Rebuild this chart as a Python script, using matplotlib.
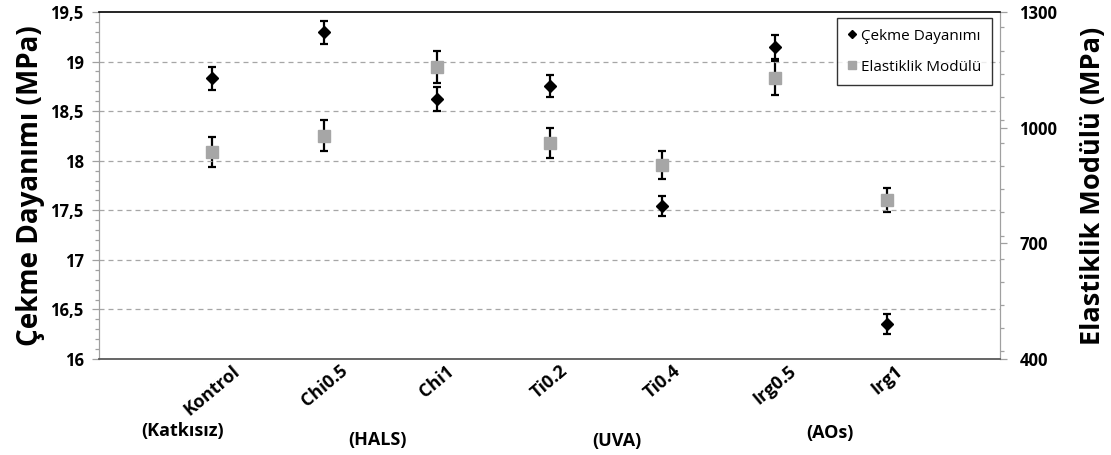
import matplotlib
matplotlib.use("Agg")
import matplotlib.pyplot as plt
from matplotlib.lines import Line2D
from matplotlib.ticker import MultipleLocator, FixedLocator

plt.rcParams['font.family'] = ['Open Sans', 'DejaVu Sans']

# Samples and their additive groups
categories = ["Kontrol", "Chi0.5", "Chi1", "Ti0.2", "Ti0.4", "Irg0.5", "Irg1"]
groups = ["(Katkısız)", "(HALS)", "(UVA)", "(AOs)"]
group_x = [0.74, 2.47, 4.6, 6.49]
group_y = [-0.207, -0.232, -0.235, -0.213]

# Tensile strength (MPa) with standard deviations
cekme = [18.83, 19.295, 18.62, 18.757, 17.546, 19.15, 16.355]
cekme_err = [0.115, 0.115, 0.12, 0.11, 0.10, 0.12, 0.10]

# Elastic modulus (MPa) with standard deviations
elastik = [936, 979, 1158, 960, 903, 1128, 813]
elastik_err = [39, 40, 42, 38, 37, 44, 31]

left_ticks = [16, 16.5, 17, 17.5, 18, 18.5, 19, 19.5]
left_labels = ["16", "16,5", "17", "17,5", "18", "18,5", "19", "19,5"]
right_ticks = [400, 700, 1000, 1300]

fig = plt.figure(figsize=(11.11, 4.55), dpi=100)
ax = fig.add_axes([99 / 1111, 1 - 359 / 455, 901 / 1111, 347 / 455])
ax2 = ax.twinx()

x = list(range(1, len(categories) + 1))

ax.set_xlim(0, 8)
ax.set_ylim(16, 19.5)
ax2.set_ylim(400, 1300)

# grid
for v in left_ticks[1:-1]:
    ax.axhline(v, color="#a6a6a6", lw=0.9, ls=(0, (4, 3.2)), zorder=0)

ax2.errorbar(x, elastik, yerr=elastik_err, fmt="s", color="#a6a6a6",
             markersize=8.2, ecolor="black", elinewidth=1.6, capsize=3.2,
             capthick=1.6, zorder=3)
ax.set_zorder(ax2.get_zorder() + 1)
ax.patch.set_visible(False)
ax.errorbar(x, cekme, yerr=cekme_err, fmt="D", color="black",
            markersize=5.8, ecolor="black", elinewidth=1.6, capsize=3.2,
            capthick=1.6, zorder=3)

# spines
ax.spines["top"].set_color("black")
ax.spines["top"].set_linewidth(1.2)
ax.spines["bottom"].set_color("#595959")
ax.spines["bottom"].set_linewidth(1.3)
for s in ("left", "right"):
    ax.spines[s].set_color("#a0a0a0")
    ax2.spines[s].set_color("#a0a0a0")
ax2.spines["top"].set_visible(False)
ax2.spines["bottom"].set_visible(False)

# ticks
ax.yaxis.set_major_locator(FixedLocator(left_ticks))
ax.set_yticklabels(left_labels)
ax.yaxis.set_minor_locator(MultipleLocator(0.1))
ax2.yaxis.set_major_locator(FixedLocator(right_ticks))
ax2.yaxis.set_minor_locator(MultipleLocator(60))
ax.tick_params(axis="y", which="major", length=5, width=0.9, color="#a0a0a0",
               labelsize=12, pad=6)
ax2.tick_params(axis="y", which="major", length=5, width=0.9, color="#a0a0a0",
                labelsize=12, pad=9)
for a in (ax, ax2):
    a.tick_params(axis="y", which="minor", length=3, width=0.9, color="#a0a0a0")
for lab in ax.get_yticklabels() + ax2.get_yticklabels():
    lab.set_fontweight("bold")

ax.set_xticks(x)
ax.set_xticklabels(categories, rotation=40, ha="center", fontsize=13,
                   fontweight="bold")
ax.tick_params(axis="x", length=0, pad=2)

for g, gx, gy in zip(groups, group_x, group_y):
    ax.text(gx, gy, g, transform=ax.get_xaxis_transform(), ha="center",
            va="center", fontsize=13, fontweight="bold")

ax.set_ylabel("Çekme Dayanımı (MPa)", fontsize=20, fontweight="bold", labelpad=4)
ax2.set_ylabel("Elastiklik Modülü (MPa)", fontsize=19.5, fontweight="bold",
               labelpad=16)

handles = [
    Line2D([], [], marker="D", color="black", ls="none", markersize=4.5),
    Line2D([], [], marker="s", color="#a6a6a6", ls="none", markersize=6),
]
leg = ax.legend(handles, ["Çekme Dayanımı", "Elastiklik Modülü"],
                loc="upper right", bbox_to_anchor=(0.991, 0.983), fontsize=11,
                frameon=True, fancybox=False, handlelength=0.6,
                handletextpad=0.3, labelspacing=1.05, borderpad=0.7,
                borderaxespad=0)
leg.get_frame().set_edgecolor("black")
leg.get_frame().set_linewidth(1.0)

fig.savefig("out.png", dpi=100)
